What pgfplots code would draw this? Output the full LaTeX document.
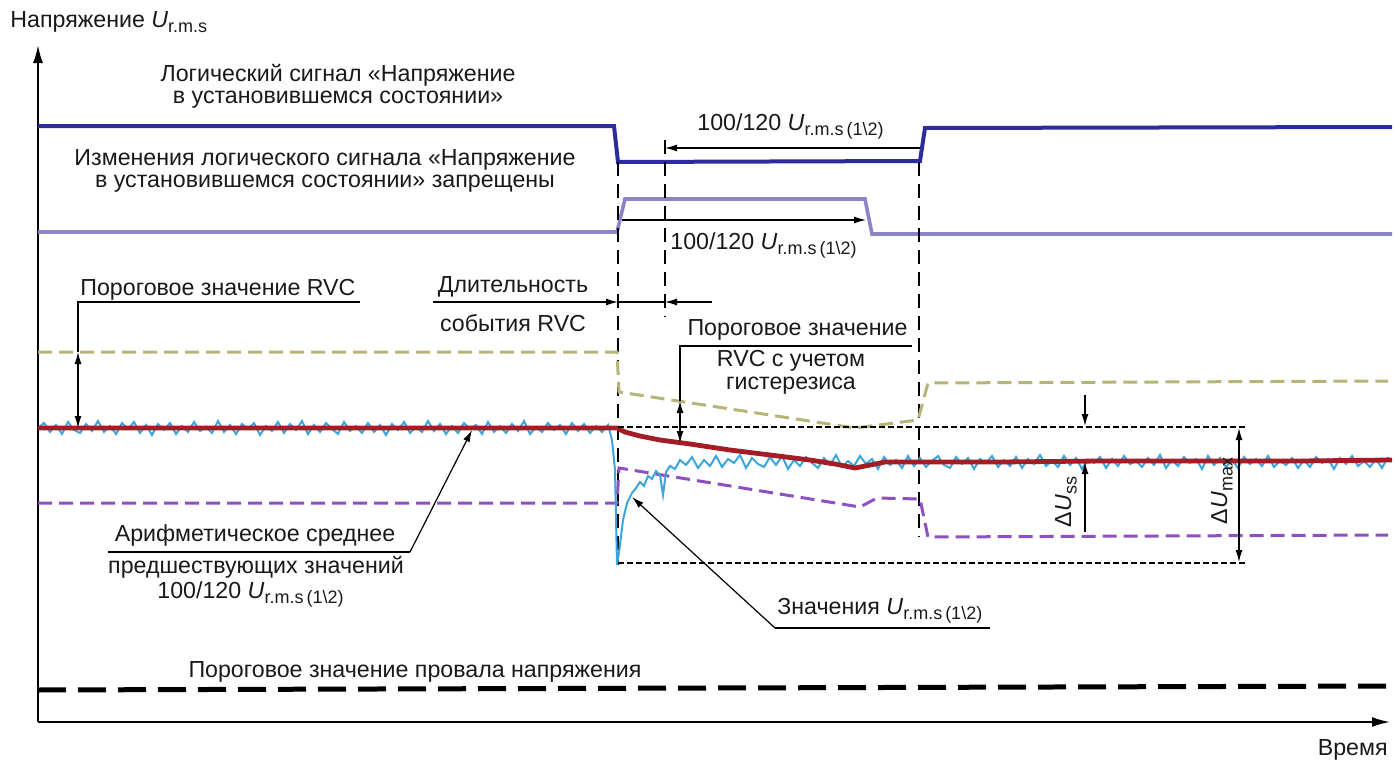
\documentclass[border=0pt]{standalone}
\usepackage{pgfplots}
\pgfplotsset{compat=1.18}
\usepackage{fontspec}
\setmainfont{Liberation Sans}
\usetikzlibrary{arrows.meta}
\definecolor{logblue}{RGB}{44,44,156}
\definecolor{lilac}{RGB}{140,132,200}
\definecolor{olivec}{RGB}{184,180,120}
\definecolor{violetc}{RGB}{142,80,192}
\definecolor{meanred}{RGB}{165,28,36}
\definecolor{sigblue}{RGB}{60,165,220}
\definecolor{txt}{RGB}{25,25,25}
\newcommand{\sub}[1]{\raisebox{-0.45ex}{\fontsize{9}{10}\selectfont #1}}
\newcommand{\Urms}{\textit{U}\sub{r.m.s\,(1\textbackslash 2)}}
\begin{document}
\begin{tikzpicture}[font=\fontsize{11.6}{13.9}\selectfont, text=txt,
  every node/.style={inner sep=0pt},
  ar/.style={-{Latex[length=6pt,width=3.5pt]}, line width=0.6pt},
  dar/.style={{Latex[length=6pt,width=3.5pt]}-{Latex[length=6pt,width=3.5pt]}, line width=0.6pt},
  vdash/.style={line width=1pt, dash pattern=on 7pt off 4pt},
  tdash/.style={line width=0.6pt, dash pattern=on 3pt off 1.5pt}]
\begin{axis}[hide axis, scale only axis, x=0.5pt, y=0.5pt,
  xmin=0, xmax=1394, ymin=0, ymax=760, y dir=reverse, clip=false]
\coordinate (BB1) at (axis cs:0,0);
\coordinate (BB2) at (axis cs:1394,760);
% axes
\draw[line width=1pt, -{Latex[length=9pt,width=5pt]}] (38,722) -- (38,45);
\draw[line width=1pt, -{Latex[length=9pt,width=5pt]}] (38,722) -- (1390,722);
\node[anchor=base west] at (10,27) {Напряжение \textit{U}\sub{r.m.s}};
\node[anchor=base east] at (1388,755) {Время};
% logic signals
\addplot[logblue, line width=2pt] coordinates {(38,126)(614,126)(618,162)(920,161)(925,128)(1392,127)};
\addplot[lilac, line width=1.8pt] coordinates {(38,232)(617,232)(625,199)(865,199)(872,234)(1392,234)};
% vertical dashed
\draw[vdash] (618,162) -- (618,565);
\draw[vdash] (665,140) -- (665,317);
\draw[vdash] (919,162) -- (919,537);
% arrows near logic signals
\draw[ar] (920,148) -- (665,148);
\draw[ar] (622,220) -- (866,220);
\node[anchor=base west] at (697,130) {100/120 \Urms};
\node[anchor=base west] at (670,249) {100/120 \Urms};
\node at (338,75) {Логический сигнал «Напряжение};
\node at (338,100) {в установившемся состоянии»};
\node at (325,160) {Изменения логического сигнала «Напряжение};
\node at (325,184) {в установившемся состоянии» запрещены};
% thresholds
\addplot[olivec, line width=1.5pt, dash pattern=on 7pt off 3.5pt] coordinates {(38,352)(617,352)(619,392)(855,428)(918,420)(928,383)(1388,381)};
\addplot[violetc, line width=1.5pt, dash pattern=on 7pt off 3.5pt] coordinates {(38,503)(617,503)(619,468)(860,507)(877,498)(920,499)(928,537)(1388,535)};
\addplot[black, line width=2.5pt, dash pattern=on 14pt off 6pt] coordinates {(38,690)(1390,686)};
\node at (415,672) {Пороговое значение провала напряжения};
% measured signal
\addplot[sigblue, line width=1pt] coordinates {
(38,428)(44,423)(50,432)(56,425)(62,434)(68,422)(74,430)(80,433)(86,424)(92,431)
(98,421)(104,432)(110,426)(116,434)(122,423)(128,429)(134,422)(140,433)(146,425)(152,435)
(158,424)(164,430)(170,423)(176,434)(182,426)(188,432)(194,422)(200,431)(206,427)(212,433)
(218,421)(224,432)(230,425)(236,434)(242,424)(248,429)(254,423)(260,435)(266,426)(272,431)
(278,422)(284,433)(290,424)(296,430)(302,421)(308,434)(314,425)(320,432)(326,423)(332,429)
(338,434)(344,422)(350,431)(356,426)(362,433)(368,423)(374,432)(380,425)(386,435)(392,424)
(398,430)(404,422)(410,433)(416,427)(422,432)(428,421)(434,431)(440,424)(446,434)(452,426)
(458,433)(464,423)(470,429)(476,425)(482,434)(488,422)(494,432)(500,426)(506,433)(512,424)
(518,431)(524,421)(530,434)(536,427)(542,432)(548,423)(554,430)(560,425)(566,434)(572,423)
(578,431)(584,424)(590,433)(596,426)(602,432)(608,425)
(612,440)(615,470)(617,565)(620,545)(623,520)(627,503)(632,493)(636,488)(640,482)(644,486)
(648,476)(652,479)(656,471)(660,475)(663,495)(666,472)(670,466)(675,469)(680,460)
(686,465)(692,457)(698,468)(704,460)(710,466)(716,456)(722,467)(728,459)(734,463)(740,455)
(746,468)(752,458)(758,464)(764,467)(770,457)(776,465)(782,456)(788,469)(794,460)(800,466)
(806,457)(812,463)(818,468)(824,458)(830,465)(836,455)(842,467)(848,461)(854,466)(860,456)
(866,464)(872,459)(878,469)(884,457)(890,465)(896,460)(902,468)(908,456)(914,466)(920,458)
(926,467)(932,461)(938,456)(944,465)(950,468)(956,457)(962,464)(968,458)(974,469)(980,459)
(986,463)(992,456)(998,467)(1004,460)(1010,466)(1016,457)(1022,468)(1028,459)(1034,464)(1040,455)
(1046,466)(1052,461)(1058,467)(1064,456)(1070,465)(1076,458)(1082,469)(1088,460)(1094,463)(1100,457)
(1106,468)(1112,459)(1118,466)(1124,456)(1130,464)(1136,461)(1142,467)(1148,458)(1154,465)(1160,455)
(1166,468)(1172,460)(1178,466)(1184,457)(1190,463)(1196,459)(1202,469)(1208,456)(1214,465)(1220,458)
(1226,467)(1232,460)(1238,468)(1244,457)(1250,464)(1256,459)(1262,466)(1268,456)(1274,467)(1280,461)
(1286,465)(1292,458)(1298,468)(1304,460)(1310,467)(1316,457)(1322,463)(1328,459)(1334,469)(1340,458)
(1346,464)(1352,456)(1358,466)(1364,461)(1370,467)(1376,459)(1382,468)(1388,457)};
% mean
\addplot[meanred, line width=2.4pt] coordinates {(38,428)(617,428)(625,432)(640,436)(660,440)(690,444)(730,450)(770,455)(810,460)(835,464)(855,468)(870,465)(885,462)(920,462)(1000,462)(1100,461)(1200,461)(1300,461)(1392,460)};
% thin dashed
\draw[tdash] (618,427) -- (1248,427);
\draw[tdash] (618,563) -- (1248,563);
% Delta U
\draw[ar] (1085,395) -- (1085,426);
\draw[ar] (1085,532) -- (1085,462);
\draw[dar] (1239,428) -- (1239,562);
\node[rotate=90] at (1066,502) {Δ\textit{U}\sub{ss}};
\node[rotate=90] at (1222,491) {Δ\textit{U}\sub{max}};
% RVC threshold
\node[anchor=base west] at (80,295) {Пороговое значение RVC};
\draw[line width=0.6pt] (360,302) -- (78,302) -- (78,352);
\draw[dar] (78,352) -- (78,428);
% duration
\node at (513,287) {Длительность};
\node at (513,323) {события RVC};
\draw[ar] (433,302) -- (618,302);
\draw[line width=0.6pt] (618,302) -- (665,302);
\draw[ar] (712,302) -- (665,302);
% hysteresis
\node[anchor=base east] at (908,335) {Пороговое значение};
\node at (791,361) {RVC с учетом};
\node at (791,386) {гистерезиса};
\draw[line width=0.6pt] (912,346) -- (680,346) -- (680,401);
\draw[dar] (680,401) -- (680,443);
% mean annotation
\node at (255,535) {Арифметическое среднее};
\node at (256,567) {предшествующих значений};
\node[anchor=base west] at (157,598) {100/120 \Urms};
\draw[line width=0.6pt] (108,552) -- (410,552);
\draw[ar] (410,552) -- (472,430);
% values annotation
\node[anchor=base west] at (777,614) {Значения \Urms};
\draw[line width=0.6pt] (990,628) -- (775,628);
\draw[ar] (775,628) -- (632,497);
\end{axis}
\pgfresetboundingbox
\useasboundingbox (BB1) rectangle (BB2);
\end{tikzpicture}
\end{document}
